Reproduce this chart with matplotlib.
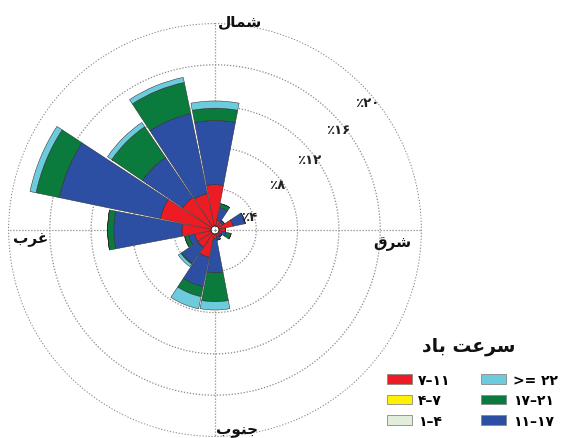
import numpy as np
import matplotlib
matplotlib.use("Agg")
import matplotlib.pyplot as plt

# ---------------- data ----------------
directions = ["N", "NNE", "NE", "ENE", "E", "ESE", "SE", "SSE",
              "S", "SSW", "SW", "WSW", "W", "WNW", "NW", "NNW"]
# frequency (%) per speed class, stacked from centre outwards
speed_1_4   = [0.0] * 16
speed_4_7   = [0.0] * 16
speed_7_11  = [4.0, 0.6, 0.5, 1.4, 0.6, 0.3, 0.2, 0.3, 0.4, 2.3, 1.6, 1.6, 2.8, 5.0, 3.4, 3.2]
speed_11_17 = [6.2, 1.2, 0.2, 1.2, 0.0, 0.4, 0.2, 0.3, 3.35, 2.9, 1.9, 0.6, 6.6, 10.0, 4.7, 7.9]
speed_17_21 = [1.2, 0.4, 0.0, 0.0, 0.0, 0.5, 0.0, 0.0, 2.8, 1.0, 0.1, 0.4, 0.6, 2.3, 3.6, 3.1]
speed_22    = [0.7, 0.0, 0.0, 0.0, 0.0, 0.0, 0.0, 0.0, 0.8, 1.2, 0.3, 0.0, 0.0, 0.6, 0.5, 0.5]

class_labels = ["۱–۴", "۴–۷", "۷–۱۱", "۱۱–۱۷", "۱۷–۲۱", ">= ۲۲"]
ring_values = [4, 8, 12, 16, 20]
ring_labels = ["٪۴", "٪۸", "٪۱۲", "٪۱۶", "٪۲۰"]
# Persian words written in visual order with presentation forms
north = "\uFEDD\uFE8E\uFEE4\uFEB7"   # شمال
east = "\uFED5\uFEAE\uFEB7"          # شرق
west = "\uFE8F\uFEAE\uFECF"          # غرب
south = "\uFE8F\uFEEE\uFEE8\uFE9F"   # جنوب
legend_title = "\uFEA9\uFE8E\uFE91 \uFE96\uFECB\uFEAE\uFEB3"  # سرعت باد

# ---------------- style ----------------
colors = ["#e2eed9", "#fff200", "#ed1c24", "#2d4fa3", "#0b7a3d", "#6ccbdc"]
CENTER_HOLE = 0.4
BAR_WIDTH_DEG = 21.5
grid_kw = dict(color="#8a8a8a", linewidth=0.9, linestyle=(0, (1, 1.4)))

plt.rcParams["font.family"] = ["DejaVu Sans"]

fig = plt.figure(figsize=(5.67, 4.39), dpi=100)
W, H = 567, 439
cx, cy, R = 215, 231, 207
ax = fig.add_axes([(cx - R) / W, (H - cy - R) / H, 2 * R / W, 2 * R / H],
                  projection="polar")
ax.set_theta_zero_location("N")
ax.set_theta_direction(-1)

theta = np.deg2rad(np.arange(len(directions)) * 360.0 / len(directions))
width = np.deg2rad(BAR_WIDTH_DEG)

series = [speed_1_4, speed_4_7, speed_7_11, speed_11_17, speed_17_21, speed_22]
bottom = np.full(len(directions), CENTER_HOLE)
containers = []
for vals, col in zip(series, colors):
    vals = np.asarray(vals, dtype=float)
    bc = ax.bar(theta, vals, width=width, bottom=bottom, color=col,
                edgecolor="#2a2a2a", linewidth=0.35, zorder=3)
    containers.append(bc)
    bottom = bottom + vals

ax.set_ylim(0, 20.05)
ax.set_yticks(ring_values)
ax.set_yticklabels([])
ax.set_xticks(np.deg2rad([0, 90, 180, 270]))
ax.set_xticklabels([])
ax.grid(True, **grid_kw)
ax.spines["polar"].set_visible(False)
ax.set_facecolor("white")
ax.set_axisbelow(True)

# ring labels
lab_ang = [68, 54, 53, 51, 50]
lab_off = [0.4, 0.5, 0.6, 0.6, 0.8]
for v, t, a, o in zip(ring_values, ring_labels, lab_ang, lab_off):
    ax.text(np.deg2rad(a), v - o, t, ha="center", va="center",
            fontsize=9.5, fontweight="bold", color="#222222", zorder=5)

# direction labels (figure pixel positions)
def ftext(x, y, s, **kw):
    fig.text(x / W, 1 - y / H, s, **kw)

dkw = dict(fontsize=11, fontweight="bold", color="#111111", ha="center", va="center")
ftext(240, 22, north, **dkw)
ftext(392, 244, east, **dkw)
ftext(31, 240, west, **dkw)
ftext(237, 431, south, **dkw)

# legend
ftext(469, 347, legend_title, fontsize=13.5, fontweight="bold",
      color="#111111", ha="center", va="center")
order = [2, 1, 0, 5, 4, 3]
handles = [containers[i] for i in order]
labels = [class_labels[i] for i in order]
leg = fig.legend(handles, labels, ncol=2, loc="upper left",
                 bbox_to_anchor=(387 / W, 1 - 374 / H), frameon=False,
                 prop=dict(size=10, weight="bold"), handlelength=1.8,
                 handleheight=0.7, handletextpad=0.45, columnspacing=2.2,
                 labelspacing=0.45, borderpad=0, borderaxespad=0)
for h in leg.legend_handles:
    h.set_edgecolor("#888888")
    h.set_linewidth(0.6)

fig.savefig("out.png", dpi=100)
